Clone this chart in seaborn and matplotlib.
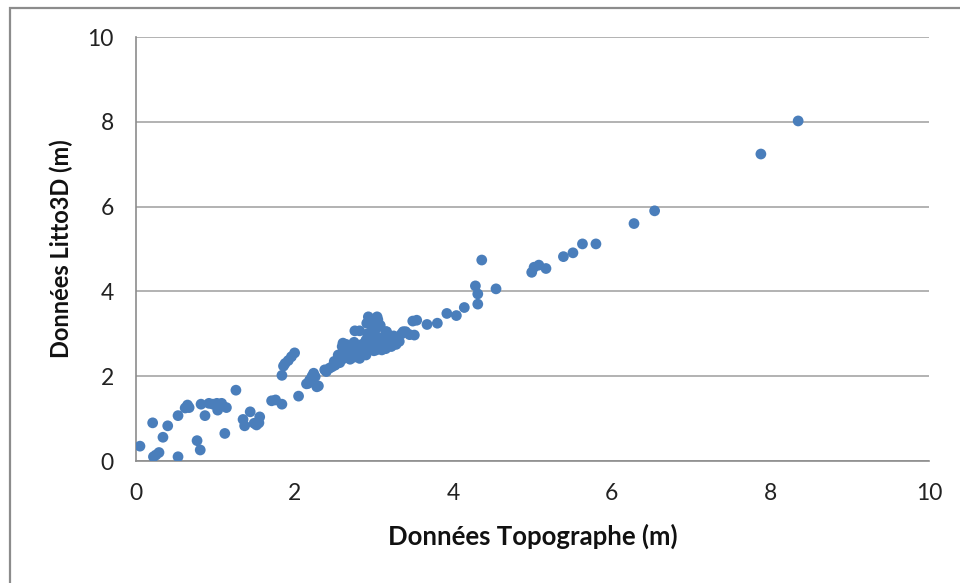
import matplotlib
matplotlib.use("Agg")
import matplotlib.pyplot as plt
import seaborn as sns
import pandas as pd
from matplotlib.patches import Rectangle

# Heights measured by the surveyor (x) and read from the Litto3D model (y), in metres
topographe = [
    0.05, 0.21, 0.22, 0.25, 0.29, 0.34, 0.40, 0.53, 0.53, 0.62, 0.65, 0.67,
    0.77, 0.81, 0.82, 0.87, 0.92, 0.97, 1.02, 1.03, 1.08, 1.14, 1.12, 1.26,
    1.35, 1.37, 1.44, 1.49, 1.52, 1.56, 1.55, 1.71, 1.76, 1.84, 2.05, 1.84,
    1.86, 1.88, 1.92, 1.96, 2.00, 2.15, 2.17, 2.19, 2.24, 2.26, 2.30, 2.22,
    2.28,
    2.38, 2.40, 2.44, 2.47, 2.51, 2.53, 2.57, 2.61, 2.76, 2.82, 2.93, 3.04,
    2.91, 2.97, 3.06, 3.16, 3.20, 3.37,
    2.55, 2.60, 2.60, 2.65, 2.65, 2.70, 2.70, 2.72, 2.75, 2.75, 2.78, 2.80,
    2.82, 2.85, 2.85, 2.88, 2.90, 2.90, 2.92, 2.95, 2.95, 2.97, 3.00, 3.00,
    3.00, 3.02, 3.05, 3.05, 3.08, 3.10, 3.10, 3.12, 3.15, 3.15, 3.18, 3.20,
    3.22, 3.25, 3.28, 3.30, 3.35, 3.40, 2.70, 2.75, 2.60, 2.50, 2.68, 2.78,
    2.88, 2.98, 3.08, 3.12, 3.25, 2.66, 2.83, 2.93, 3.03, 3.17, 3.32, 3.45,
    3.51, 3.49, 3.54, 3.67, 3.80, 3.92, 4.04, 4.14, 4.28, 4.31, 4.31, 4.36,
    4.54, 4.99, 5.02, 5.08, 5.17, 5.39, 5.51, 5.63, 5.80, 6.28, 6.54, 7.88,
    8.35,
]
litto3d = [
    0.35, 0.90, 0.10, 0.14, 0.20, 0.56, 0.83, 0.10, 1.07, 1.25, 1.32, 1.26,
    0.48, 0.26, 1.34, 1.07, 1.36, 1.34, 1.36, 1.20, 1.36, 1.26, 0.65, 1.67,
    0.98, 0.83, 1.16, 0.89, 0.85, 1.04, 0.90, 1.42, 1.44, 1.34, 1.53, 2.02,
    2.24, 2.30, 2.37, 2.46, 2.55, 1.82, 1.83, 1.91, 2.07, 1.99, 1.77, 2.00,
    1.75,
    2.15, 2.11, 2.19, 2.22, 2.26, 2.30, 2.32, 2.78, 3.07, 3.07, 3.40, 3.40,
    3.25, 3.21, 3.17, 3.05, 2.93, 3.05,
    2.50, 2.40, 2.52, 2.45, 2.75, 2.55, 2.62, 2.70, 2.45, 2.80, 2.50, 2.65,
    2.42, 2.55, 2.75, 2.60, 2.50, 2.85, 3.00, 2.65, 2.75, 3.20, 2.60, 2.80,
    2.95, 3.10, 2.70, 3.33, 3.20, 2.62, 2.75, 2.90, 3.05, 2.65, 2.80, 2.95,
    2.70, 2.85, 2.75, 2.90, 3.00, 3.05, 2.40, 2.65, 2.70, 2.35, 2.50, 2.58,
    2.68, 2.88, 2.90, 2.80, 2.95, 2.60, 2.68, 2.78, 2.62, 2.72, 2.82, 2.98,
    2.97, 3.30, 3.32, 3.22, 3.25, 3.48, 3.43, 3.62, 4.13, 3.94, 3.70, 4.74,
    4.06, 4.45, 4.57, 4.62, 4.54, 4.82, 4.91, 5.12, 5.12, 5.60, 5.90, 7.24,
    8.02,
]

df = pd.DataFrame({"topo": topographe, "litto": litto3d})

sns.set_style("white")
plt.rcParams["font.family"] = ["Lato", "DejaVu Sans"]

fig = plt.figure(figsize=(9.6, 5.83), dpi=100)
ax = fig.add_axes([136 / 960, 1 - 461 / 583, (929 - 136) / 960, (461 - 37) / 583])

# Chart-area border
fig.patches.append(Rectangle((10 / 960, -0.05), 1.0, 1 - 8 / 583 + 0.05,
                             transform=fig.transFigure, fill=False,
                             edgecolor="#8c8c8c", linewidth=1.6, zorder=0))

sns.scatterplot(data=df, x="topo", y="litto", ax=ax, color="#4a7ebb",
                s=60, edgecolor="none", linewidth=0, zorder=3)

ax.set_xlim(0, 10)
ax.set_ylim(0, 10)
ax.set_xticks([0, 2, 4, 6, 8, 10])
ax.set_yticks([0, 2, 4, 6, 8, 10])
ax.yaxis.grid(True, color="#a6a6a6", linewidth=1.2)
ax.xaxis.grid(False)
ax.set_axisbelow(True)

for side in ("top", "right"):
    ax.spines[side].set_visible(False)
for side in ("left", "bottom"):
    ax.spines[side].set_color("#8c8c8c")
    ax.spines[side].set_linewidth(1.2)

ax.tick_params(axis="both", which="major", direction="out", length=5,
               width=1.2, color="#8c8c8c", labelsize=16.5, labelcolor="#222222")
ax.tick_params(axis="x", pad=11)
ax.tick_params(axis="y", pad=11)

ax.set_xlabel("Données Topographe (m)", fontsize=18.5, fontweight="bold",
              color="#111111", labelpad=14)
ax.set_ylabel("Données Litto3D (m)", fontsize=17, fontweight="bold",
              color="#111111", labelpad=10)

fig.savefig("out.png", dpi=100)
